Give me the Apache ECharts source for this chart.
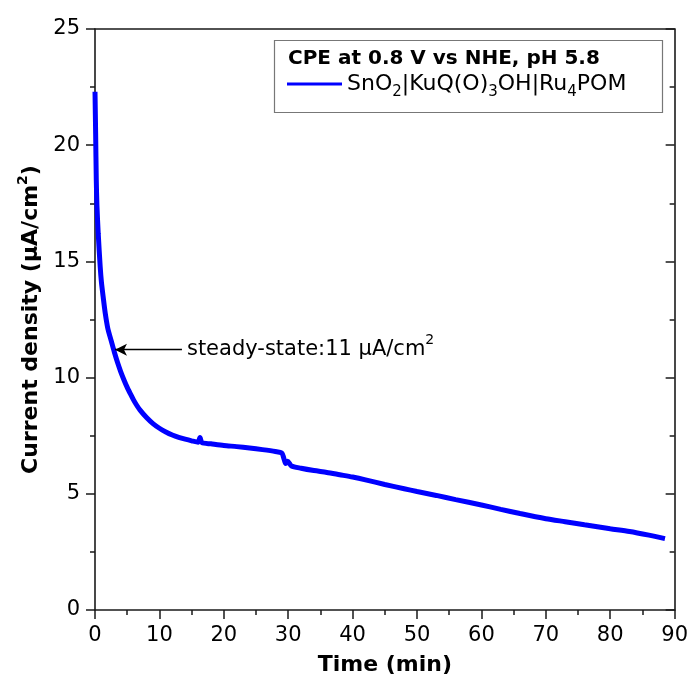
<!DOCTYPE html>
<html>
<head>
<meta charset="utf-8">
<script src="https://cdn.jsdelivr.net/npm/echarts@6/dist/echarts.min.js"></script>
<style>html,body{margin:0;padding:0;background:#fff}#c{width:691px;height:681px}</style>
</head>
<body>
<div id="c"></div>
<script>
// ---- data ----
var timeMin = [0, 0.1, 0.2, 0.3, 0.5, 0.8, 1.0, 1.3, 1.6, 2.0, 2.5, 3.0, 3.5, 4.0, 4.5, 5.0, 5.5, 6.0, 6.5, 7.0, 8.0, 9.0, 10, 11, 12, 13, 14, 15, 16, 16.3, 16.6, 18, 20, 22, 24, 26, 28, 29, 29.3, 29.6, 29.9, 30.5, 32, 34, 36, 38, 40, 42, 45, 48, 50, 53, 56, 60, 63, 66, 70, 73, 76, 80, 83, 86, 88.5];
var currentDensity = [22.3, 20.5, 18.5, 17.4, 16.2, 14.8, 14.1, 13.4, 12.75, 12.1, 11.6, 11.1, 10.65, 10.25, 9.9, 9.58, 9.3, 9.03, 8.8, 8.6, 8.28, 8.02, 7.82, 7.66, 7.53, 7.43, 7.35, 7.28, 7.22, 7.42, 7.2, 7.15, 7.08, 7.03, 6.97, 6.9, 6.82, 6.76, 6.55, 6.3, 6.4, 6.2, 6.1, 6.0, 5.92, 5.82, 5.72, 5.6, 5.4, 5.22, 5.1, 4.93, 4.75, 4.52, 4.33, 4.15, 3.93, 3.8, 3.67, 3.5, 3.38, 3.22, 3.07];
var xTicks = {min: 0, max: 90, interval: 10};
var yTicks = {min: 0, max: 25, interval: 5};
var arrowY = [11.2, 11.2];
var arrowT = [3.1, 13.5];
var legendTitle = 'CPE at 0.8 V vs NHE, pH 5.8';
var seriesName = 'SnO2|KuQ(O)3OH|Ru4POM';

var FONT = '"DejaVu Sans", "Liberation Sans", Arial, sans-serif';
var series = timeMin.map(function (t, i) { return [t, currentDensity[i]]; });

var rich = {
  n: {fontSize: 21, fontFamily: FONT, color: '#000', lineHeight: 32, verticalAlign: 'middle'},
  sp: {fontSize: 14, fontFamily: FONT, color: '#000', lineHeight: 14, verticalAlign: 'top'},
  b: {fontSize: 22, fontFamily: FONT, fontWeight: 'bold', color: '#000', lineHeight: 30, verticalAlign: 'middle'},
  bsp: {fontSize: 14, fontFamily: FONT, fontWeight: 'bold', color: '#000', lineHeight: 14, verticalAlign: 'top'}
};
var legendRich = {
  n: {fontSize: 22, fontFamily: FONT, color: '#000', lineHeight: 32, verticalAlign: 'middle'},
  sb: {fontSize: 15, fontFamily: FONT, color: '#000', lineHeight: 15, verticalAlign: 'bottom'}
};

var chart = echarts.init(document.getElementById('c'), null, {renderer: 'canvas'});
var axisLineStyle = {color: '#1a1a1a', width: 1.6};
var tickStyle = {color: '#1a1a1a', width: 1.5};
chart.setOption({
  animation: false,
  backgroundColor: '#fff',
  grid: {left: 95, right: 16, top: 29, bottom: 70},
  title: {
    text: legendTitle, left: 283, top: 44,
    textStyle: {fontFamily: FONT, fontWeight: 'bold', fontSize: 20, color: '#000'}
  },
  legend: {
    left: 287, top: 73, padding: 0,
    icon: 'rect', itemWidth: 55, itemHeight: 3,
    data: [{name: seriesName}],
    formatter: function () {
      return '{n|SnO}{sb|2}{n||KuQ(O)}{sb|3}{n|OH|Ru}{sb|4}{n|POM}';
    },
    textStyle: {rich: legendRich}
  },
  graphic: [{
    type: 'rect', left: 272, top: 38, z: 10,
    shape: {width: 388, height: 72},
    style: {fill: 'none', stroke: '#777', lineWidth: 1.2}
  }],
  xAxis: [{
    type: 'value', min: xTicks.min, max: xTicks.max, interval: xTicks.interval,
    name: 'Time (min)', nameLocation: 'middle', nameGap: 44,
    nameTextStyle: {fontFamily: FONT, fontWeight: 'bold', fontSize: 22, color: '#000'},
    axisLine: {show: true, onZero: false, lineStyle: axisLineStyle},
    axisTick: {show: true, inside: false, length: 9, lineStyle: tickStyle},
    minorTick: {show: true, splitNumber: 2, length: 5, lineStyle: tickStyle},
    axisLabel: {fontFamily: FONT, fontSize: 21, color: '#000', margin: 15},
    splitLine: {show: false}
  }, {
    type: 'value', position: 'top', min: xTicks.min, max: xTicks.max, interval: xTicks.interval,
    axisLine: {show: true, onZero: false, lineStyle: axisLineStyle},
    axisTick: {show: false}, axisLabel: {show: false}, splitLine: {show: false}
  }],
  yAxis: [{
    type: 'value', min: yTicks.min, max: yTicks.max, interval: yTicks.interval,
    name: '{b|Current density (μA/cm}{bsp|2}{b|)}', nameLocation: 'middle', nameGap: 48,
    nameTextStyle: {rich: rich},
    axisLine: {show: true, onZero: false, lineStyle: axisLineStyle},
    axisTick: {show: true, inside: false, length: 9, lineStyle: tickStyle},
    minorTick: {show: true, splitNumber: 2, length: 5, lineStyle: tickStyle},
    axisLabel: {fontFamily: FONT, fontSize: 21, color: '#000', margin: 15},
    splitLine: {show: false}
  }, {
    type: 'value', position: 'right', min: yTicks.min, max: yTicks.max, interval: yTicks.interval,
    axisLine: {show: true, onZero: false, lineStyle: axisLineStyle},
    axisTick: {show: true, inside: true, length: 9, lineStyle: tickStyle},
    minorTick: {show: true, splitNumber: 2, length: 5, lineStyle: tickStyle},
    axisLabel: {show: false}, splitLine: {show: false}
  }],
  series: [{
    name: seriesName, type: 'line', data: series, xAxisIndex: 0, yAxisIndex: 0,
    showSymbol: false, smooth: 0.25,
    lineStyle: {color: '#0000FF', width: 5},
    itemStyle: {color: '#0000FF'},
    markLine: {
      silent: true, animation: false,
      symbol: ['arrow', 'none'], symbolSize: [9, 12],
      lineStyle: {color: '#000', width: 1.4, type: 'solid'},
      label: {
        show: true, position: 'end', distance: 5,
        formatter: '{n|steady-state:11 μA/cm}{sp|2}',
        rich: rich
      },
      data: [[{coord: [arrowT[0], arrowY[0]]}, {coord: [arrowT[1], arrowY[1]]}]]
    }
  }]
});
</script>
</body>
</html>
